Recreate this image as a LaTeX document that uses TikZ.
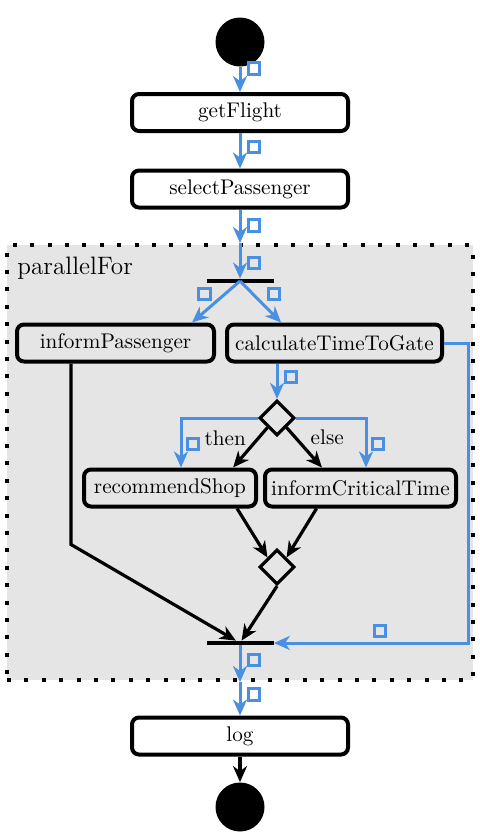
\documentclass[tikz,border=0pt]{standalone}
\usetikzlibrary{shapes.geometric,arrows.meta,calc}
\definecolor{flowblue}{RGB}{74,144,226}
\definecolor{pfgray}{RGB}{229,229,229}
\begin{document}
\begin{tikzpicture}[x=0.5pt,y=-0.5pt,
  font=\fontsize{10.6}{12}\selectfont,
  box/.style={draw=black, line width=2pt, rounded corners=3.5pt, minimum height=18.5pt, inner sep=0pt, minimum width=#1},
  flow/.style={draw=flowblue, line width=1.5pt, -{Stealth[length=8pt,width=7pt,inset=2.5pt]}},
  ctrl/.style={draw=black, line width=1.6pt, -{Stealth[length=8pt,width=7pt,inset=2.5pt]}},
  sq/.style={draw=flowblue, line width=1.6pt, minimum size=5.75pt, inner sep=0pt},
  bar/.style={fill=black, minimum width=33.5pt, minimum height=2pt, inner sep=0pt},
  dec/.style={diamond, draw=black, line width=1.6pt, minimum width=17.5pt, minimum height=17.5pt, inner sep=0pt},
  terminal/.style={circle, fill=black, minimum size=24.5pt, inner sep=0pt}]
\useasboundingbox (0,0) rectangle (480,837);
% container
\node[draw=black, line width=2pt, dash pattern=on 2pt off 6.7pt, fill=pfgray, minimum width=233pt, minimum height=217.5pt, inner sep=0pt] (pf) at (240,462.5) {};
\node[anchor=base west, inner sep=0pt, font=\fontsize{12.6}{14}\selectfont] (pflabel) at (17,274) {parallelFor};
% nodes
\node[terminal] (start) at (240,42) {};
\node[box=108pt] (getFlight) at (240,112.5) {getFlight};
\node[box=108pt] (selectPassenger) at (240,189) {selectPassenger};
\node[bar] (fork) at (240,281) {};
\node[box=98.5pt] (informPassenger) at (115.5,343) {informPassenger};
\node[box=107.5pt] (calculateTimeToGate) at (334.5,343) {calculateTimeToGate};
\node[dec] (dec1) at (277,418) {};
\node[box=86pt] (recommendShop) at (170,488) {recommendShop};
\node[box=95.5pt] (informCriticalTime) at (360.5,488) {informCriticalTime};
\node[dec] (dec2) at (277,567) {};
\node[bar] (join) at (240,643) {};
\node[box=108pt] (log) at (240,736) {log};
\node[terminal] (end) at (240,807) {};
% edges
\draw[flow] (start) -- (getFlight);
\draw[flow] (getFlight) -- (selectPassenger);
\draw[flow] (selectPassenger) -- (pf.north);
\draw[flow] (pf.north) -- (fork);
\draw[flow] (fork.center) -- (informPassenger.15);
\draw[flow] (fork.center) -- (calculateTimeToGate.159);
\draw[flow] (calculateTimeToGate.south -| dec1.north) -- (dec1.north);
\draw[flow] (dec1.west) -| ([xshift=5.5pt]recommendShop.north);
\draw[flow] (dec1.east) -| ([xshift=2.75pt]informCriticalTime.north);
\draw[ctrl] (dec1.south west) -- node[pos=0.5, xshift=-12.5pt, yshift=4.75pt]{then} (recommendShop.18);
\draw[ctrl] (dec1.south east) -- node[pos=0.5, xshift=11.5pt, yshift=5pt]{else} (informCriticalTime.152);
\draw[ctrl] (recommendShop.-17) -- (dec2.north west);
\draw[ctrl] (informCriticalTime.205) -- (dec2.north east);
\draw[ctrl] (dec2.south) -- (join);
\draw[ctrl] ([xshift=-22.25pt]informPassenger.south) -- ++(0,181) -- (join);
\draw[flow] (calculateTimeToGate.east) -- ++(24,0) |- (join.east);
\draw[flow] (join) -- (pf.south);
\draw[flow] (pf.south) -- (log);
\draw[ctrl] (log) -- (end);
% object flow pins
\node[sq] (s1) at (254,68.5) {};
\node[sq] (s2) at (254,147) {};
\node[sq] (s3) at (254,225.5) {};
\node[sq] (s4) at (254,263) {};
\node[sq] (s5) at (204.5,294) {};
\node[sq] (s6) at (274,294) {};
\node[sq] (s7) at (291,377) {};
\node[sq] (s8) at (193,444) {};
\node[sq] (s9) at (378,444) {};
\node[sq] (s10) at (380,631) {};
\node[sq] (s11) at (254,660) {};
\node[sq] (s12) at (254,694.5) {};
\end{tikzpicture}
\end{document}
